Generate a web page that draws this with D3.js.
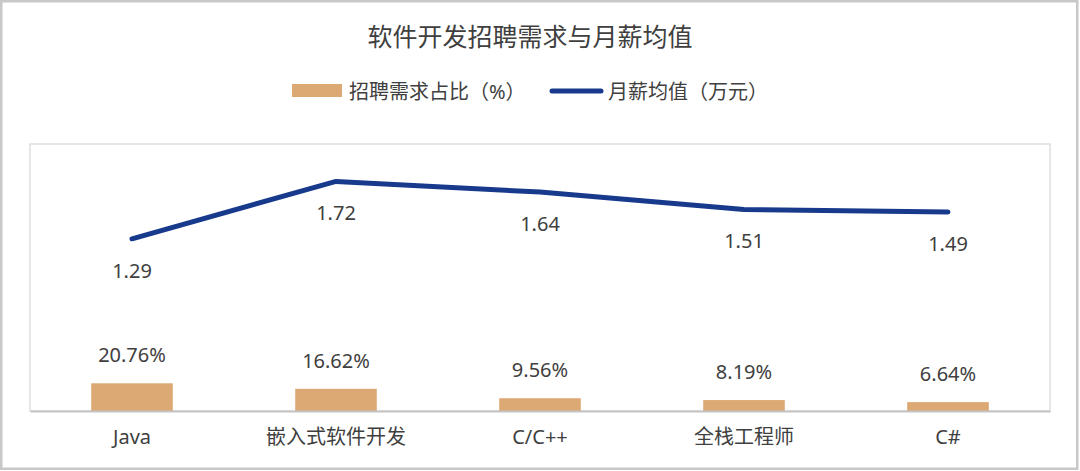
<!DOCTYPE html>
<html>
<head>
<meta charset="utf-8">
<script src="https://cdn.jsdelivr.net/npm/d3@7"></script>
<style>
  body { margin: 0; background: #fff; }
  svg text { font-family: "Noto Sans", "Noto Sans CJK SC", sans-serif; fill: #404040; }
</style>
</head>
<body>
<div id="viz"></div>
<script>
const width = 1080;
const height = 471;
const plot = {left: 30, right: 1050, top: 144, bottom: 411};
const barColor = '#dca874';
const lineColor = '#183a8c';

// Data
const categories = ['Java', '嵌入式软件开发', 'C/C++', '全栈工程师', 'C#'];
const demandShare = [20.76, 16.62, 9.56, 8.19, 6.64];   // 招聘需求占比（%）
const avgSalary = [1.29, 1.72, 1.64, 1.51, 1.49];       // 月薪均值（万元）
const seriesNames = ['招聘需求占比（%）', '月薪均值（万元）'];
const title = '软件开发招聘需求与月薪均值';

const rows = categories.map((c, i) => ({cat: c, share: demandShare[i], salary: avgSalary[i]}));

const svg = d3.select('#viz')
  .append('svg')
    .attr('width', width)
    .attr('height', height);

// outer frame
svg.append('rect')
  .attr('x', 1.25).attr('y', 1.25)
  .attr('width', width - 4).attr('height', height - 3.5)
  .attr('fill', 'none')
  .attr('stroke', '#c8c8c8')
  .attr('stroke-width', 2.5);

// Scales
const xScale = d3.scaleBand()
  .domain(categories)
  .range([plot.left, plot.right])
  .paddingInner(0.6)
  .paddingOuter(0.3);
const yBar = d3.scaleLinear()
  .domain([0, 200])
  .range([plot.bottom, plot.top]);
const yLine = d3.scaleLinear()
  .domain([0, 2])
  .range([plot.bottom, plot.top]);

// plot area box
svg.append('rect')
  .attr('x', plot.left).attr('y', plot.top)
  .attr('width', plot.right - plot.left).attr('height', plot.bottom - plot.top)
  .attr('fill', 'none')
  .attr('stroke', '#dedede')
  .attr('stroke-width', 1.5);

// Title
svg.append('text')
  .attr('x', 530).attr('y', 36)
  .attr('text-anchor', 'middle')
  .attr('dominant-baseline', 'central')
  .style('font-size', '25px')
  .text(title);

// Legend
const legend = svg.append('g').attr('class', 'legend');
legend.append('rect')
  .attr('x', 292).attr('y', 84).attr('width', 50).attr('height', 13)
  .attr('fill', barColor);
legend.append('text')
  .attr('x', 349).attr('y', 91)
  .attr('dominant-baseline', 'central')
  .style('font-size', '20px')
  .text(seriesNames[0]);
legend.append('line')
  .attr('x1', 552).attr('x2', 601).attr('y1', 91).attr('y2', 91)
  .attr('stroke', lineColor).attr('stroke-width', 5)
  .attr('stroke-linecap', 'round');
legend.append('text')
  .attr('x', 608).attr('y', 91)
  .attr('dominant-baseline', 'central')
  .style('font-size', '20px')
  .text(seriesNames[1]);

// Bars
svg.append('g')
    .attr('class', 'bars-group')
    .attr('fill', barColor)
  .selectAll('rect')
  .data(rows)
  .join('rect')
    .attr('x', d => xScale(d.cat))
    .attr('y', d => yBar(d.share))
    .attr('width', xScale.bandwidth())
    .attr('height', d => yBar(0) - yBar(d.share));

svg.append('g')
    .attr('class', 'bar-labels')
  .selectAll('text')
  .data(rows)
  .join('text')
    .attr('x', d => xScale(d.cat) + xScale.bandwidth() / 2)
    .attr('y', d => yBar(d.share) - 21)
    .attr('text-anchor', 'middle')
    .style('font-size', '20px')
    .text(d => d.share.toFixed(2) + '%');

// x axis
const xAxis = d3.axisBottom(xScale)
  .tickSize(0)
  .tickPadding(19);
const xAxisGroup = svg.append('g')
    .attr('class', 'x-axis-group')
    .attr('transform', `translate(0,${plot.bottom})`)
  .call(xAxis);
xAxisGroup.select('.domain')
  .attr('stroke', '#c4c4c4')
  .attr('stroke-width', 2);
xAxisGroup.selectAll('text')
  .style('font-size', '20px')
  .attr('fill', '#404040');

// Line
const lineGenerator = d3.line()
  .x(d => xScale(d.cat) + xScale.bandwidth() / 2)
  .y(d => yLine(d.salary));

svg.append('path')
  .attr('d', lineGenerator(rows))
  .attr('fill', 'none')
  .attr('stroke', lineColor)
  .attr('stroke-width', 5)
  .attr('stroke-linecap', 'round')
  .attr('stroke-linejoin', 'round');

svg.append('g')
    .attr('class', 'line-labels')
  .selectAll('text')
  .data(rows)
  .join('text')
    .attr('x', d => xScale(d.cat) + xScale.bandwidth() / 2)
    .attr('y', d => yLine(d.salary) + 39)
    .attr('text-anchor', 'middle')
    .style('font-size', '20px')
    .text(d => d.salary.toFixed(2));
</script>
</body>
</html>
